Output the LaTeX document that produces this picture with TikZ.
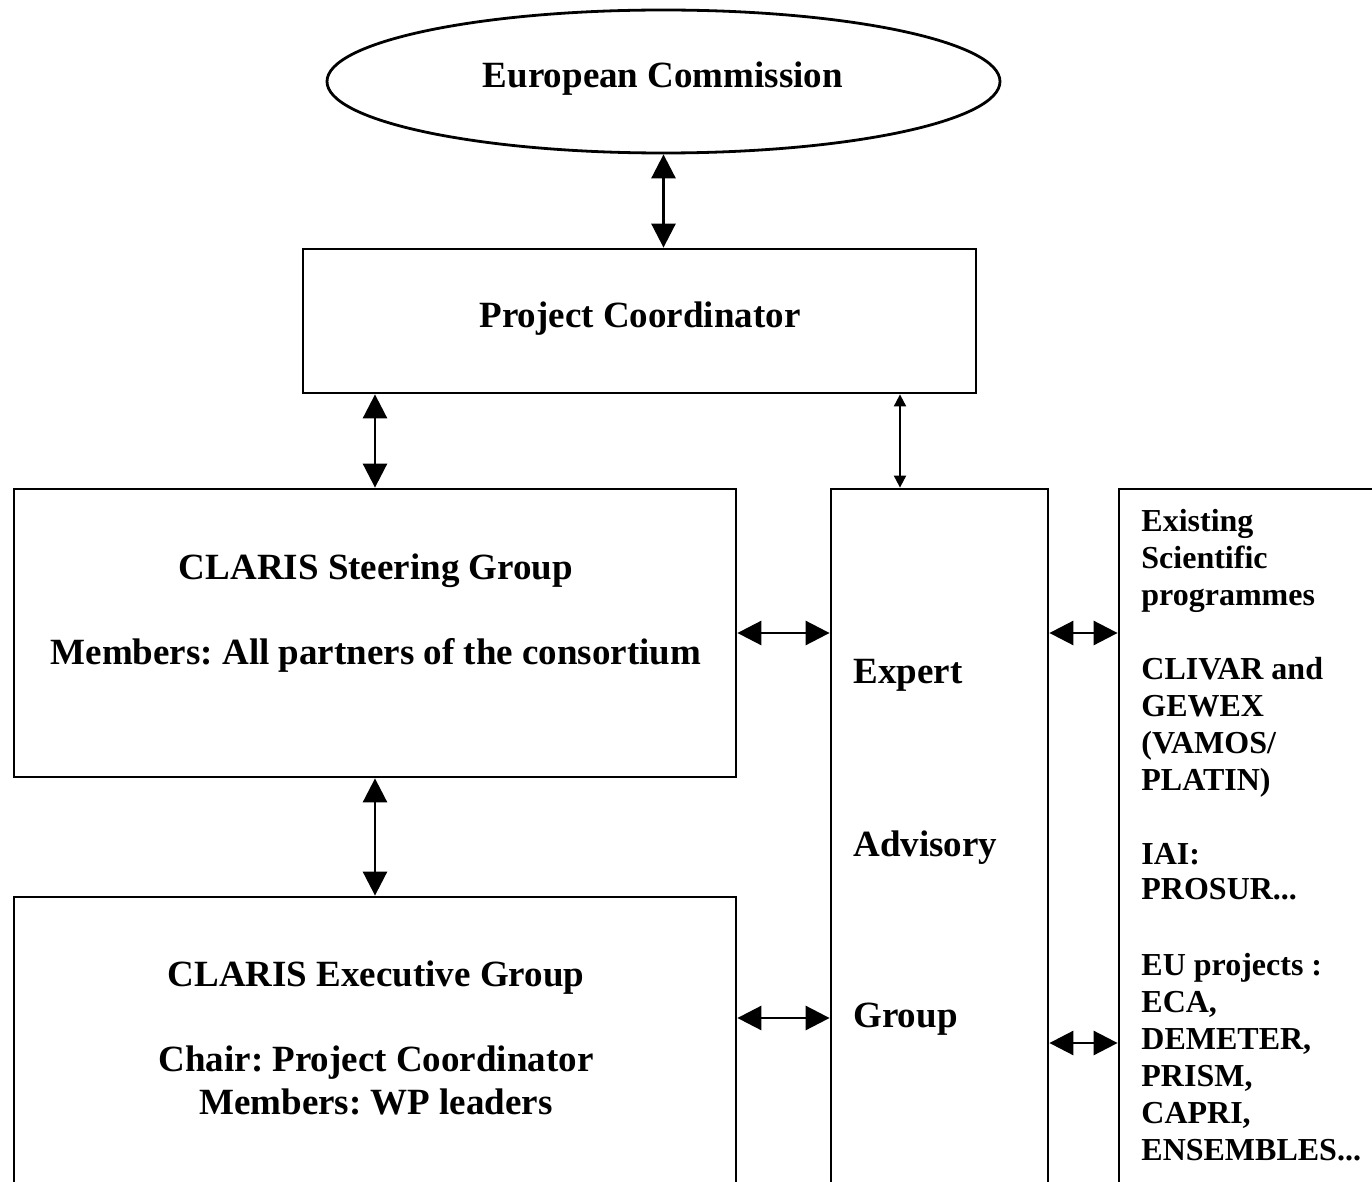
\documentclass[tikz,border=0pt]{standalone}
\usepackage{fontspec}
\setmainfont{Liberation Serif}
\usetikzlibrary{arrows.meta,shapes.geometric}
\frenchspacing
\begin{document}
\begin{tikzpicture}[x=0.5pt,y=-0.5pt,
  box/.style={draw,line width=1.4pt,inner sep=0pt,rectangle},
  lbl/.style={inner sep=0pt,font=\fontsize{18.5pt}{20pt}\selectfont\bfseries},
  rl/.style={inner sep=0pt,anchor=base west,font=\fontsize{16pt}{18.5pt}\selectfont\bfseries},
  biarrow/.style={line width=1.4pt,{Triangle[length=12pt,width=12pt]}-{Triangle[length=12pt,width=12pt]}},
  thinarrow/.style={line width=1pt,{Triangle[length=6pt,width=6pt]}-{Triangle[length=6pt,width=6pt]}}]
\useasboundingbox (0,0) rectangle (1372,1182);
\clip (0,0) rectangle (1372,1182);
% boxes
\node[draw,line width=1.4pt,ellipse,inner sep=0pt,minimum width=336.5pt,minimum height=71.5pt] (ec) at (663.5,81.5) {};
\node[box,minimum width=336.5pt,minimum height=72pt] (pc) at (639.5,321) {};
\node[box,minimum width=361pt,minimum height=144pt] (sg) at (375,633) {};
\node[box,minimum width=361pt,minimum height=176.5pt] (eg) at (375,1073.5) {};
\node[box,minimum width=108.5pt,minimum height=380.5pt] (ea) at (939.5,869.5) {};
\node[box,minimum width=150.5pt,minimum height=380.5pt] (ex) at (1269.5,869.5) {};
% texts
\node[lbl,anchor=base] (tec) at (663,88) {European Commission};
\node[lbl,anchor=base] (tpc) at (640,328) {Project Coordinator};
\node[lbl,anchor=base] (tsg1) at (376,579) {CLARIS Steering Group};
\node[lbl,anchor=base] (tsg2) at (376,664) {Members: All partners of the consortium};
\node[lbl,anchor=base] (teg1) at (376,986) {CLARIS Executive Group};
\node[lbl,anchor=base] (teg2) at (376,1071) {Chair: Project Coordinator};
\node[lbl,anchor=base] (teg3) at (376,1114) {Members: WP leaders};
\node[lbl,anchor=base west] (tea1) at (853,683) {Expert};
\node[lbl,anchor=base west] (tea2) at (853,856) {Advisory};
\node[lbl,anchor=base west] (tea3) at (853,1027) {Group};
\node[rl] (r0) at (1141,531) {Existing};
\node[rl] (r1) at (1141,568) {Scientific};
\node[rl] (r2) at (1141,605) {programmes};
\node[rl] (r4) at (1141,679) {CLIVAR and};
\node[rl] (r5) at (1141,716) {GEWEX};
\node[rl] (r6) at (1141,753) {(VAMOS/};
\node[rl] (r7) at (1141,790) {PLATIN)};
\node[rl] (r9) at (1141,864) {IAI:};
\node[rl] (r10) at (1141,899) {PROSUR...};
\node[rl] (r12) at (1141,975) {EU projects :};
\node[rl] (r13) at (1141,1012) {ECA,};
\node[rl] (r14) at (1141,1049) {DEMETER,};
\node[rl] (r15) at (1141,1086) {PRISM,};
\node[rl] (r16) at (1141,1123) {CAPRI,};
\node[rl] (r17) at (1141,1160) {ENSEMBLES...};
% connectors
\coordinate (tx) at (900,0);
\coordinate (ly) at (0,1018);
\coordinate (ry) at (0,1043);
\draw[biarrow] (ec.south) -- (pc.north -| ec.south);
\draw[biarrow] (pc.south -| sg.north) -- (sg.north);
\draw[thinarrow] (pc.south -| tx) -- (ea.north -| tx);
\draw[biarrow] (sg.south) -- (eg.north);
\draw[biarrow] (sg.east) -- (ea.west |- sg.east);
\draw[biarrow] (eg.east |- ly) -- (ea.west |- ly);
\draw[biarrow] (ea.east |- sg.east) -- (ex.west |- sg.east);
\draw[biarrow] (ea.east |- ry) -- (ex.west |- ry);
\end{tikzpicture}
\end{document}
